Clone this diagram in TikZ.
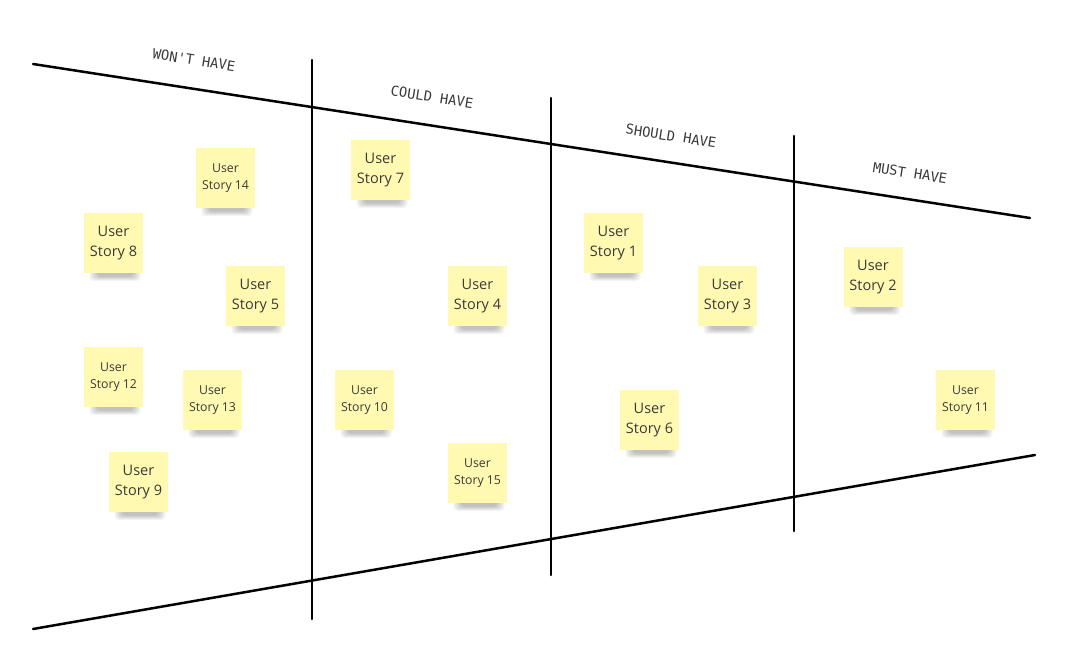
\documentclass[tikz,border=0pt]{standalone}
\usepackage{fontspec}
\setmainfont{Open Sans}
\newfontfamily\monof{DejaVu Sans Mono}
\usetikzlibrary{calc}
\definecolor{stick}{HTML}{FFF9B1}
\definecolor{ink}{HTML}{3A3A3A}
\tikzset{
 sticky/.style={fill=stick, minimum width=59pt, minimum height=60pt, inner sep=0pt, align=center, text=ink},
 big/.style={font=\fontsize{14.5}{20}\selectfont},
 small/.style={font=\fontsize{12.3}{17}\selectfont},
 header/.style={font=\monof\fontsize{13.8}{14}\selectfont, text=ink, rotate=-8.8},
 divider/.style={line width=2.5pt, black, line cap=round}
}
\newcommand\stickynote[5]{%
  \foreach \k in {0,1,2,3,4,5}{\fill[black, opacity=0.045, rounded corners=4pt] (#2-24+\k*1.5, #3+24+\k*0.4) rectangle (#2+27-\k*1.5, #3+38-\k*0.9);}
  \node[sticky,#4] (#1) at (#2,#3) {User\\Story #5};
}
\begin{document}
\begin{tikzpicture}[x=1pt,y=-1pt]
\fill[white] (0,0) rectangle (1079,671);
\useasboundingbox (0,0) rectangle (1079,671);
% frame lines
\coordinate (tl) at (33,64);
\coordinate (tr) at (1030,218);
\coordinate (bl) at (33,629);
\coordinate (br) at (1035,455);
\coordinate (v1t) at (312,60);  \coordinate (v1b) at (312,619);
\coordinate (v2t) at (551,98);  \coordinate (v2b) at (551,575);
\coordinate (v3t) at (794,136); \coordinate (v3b) at (794,531);
\draw[divider] (tl) -- (tr);
\draw[divider] (bl) -- (br);
\draw[divider] (v1t) -- (v1b);
\draw[divider] (v2t) -- (v2b);
\draw[divider] (v3t) -- (v3b);
% headers
\node[header] (h1) at (194,60) {WON'T HAVE};
\node[header] (h2) at (432,97) {COULD HAVE};
\node[header] (h3) at (671,136) {SHOULD HAVE};
\node[header] (h4) at (910,173) {MUST HAVE};
% sticky notes
\stickynote{s14}{225.5}{178}{small}{14}
\stickynote{s8}{113.5}{243}{big}{8}
\stickynote{s5}{255.5}{296}{big}{5}
\stickynote{s12}{113.5}{377}{small}{12}
\stickynote{s13}{212.5}{400}{small}{13}
\stickynote{s9}{138.5}{482}{big}{9}
\stickynote{s7}{380.5}{170}{big}{7}
\stickynote{s4}{477.5}{296}{big}{4}
\stickynote{s10}{364.5}{400}{small}{10}
\stickynote{s15}{477.5}{473}{small}{15}
\stickynote{s1}{613.5}{243}{big}{1}
\stickynote{s3}{727.5}{296}{big}{3}
\stickynote{s6}{649.5}{420}{big}{6}
\stickynote{s2}{873}{277}{big}{2}
\stickynote{s11}{965.5}{400}{small}{11}
\end{tikzpicture}
\end{document}
